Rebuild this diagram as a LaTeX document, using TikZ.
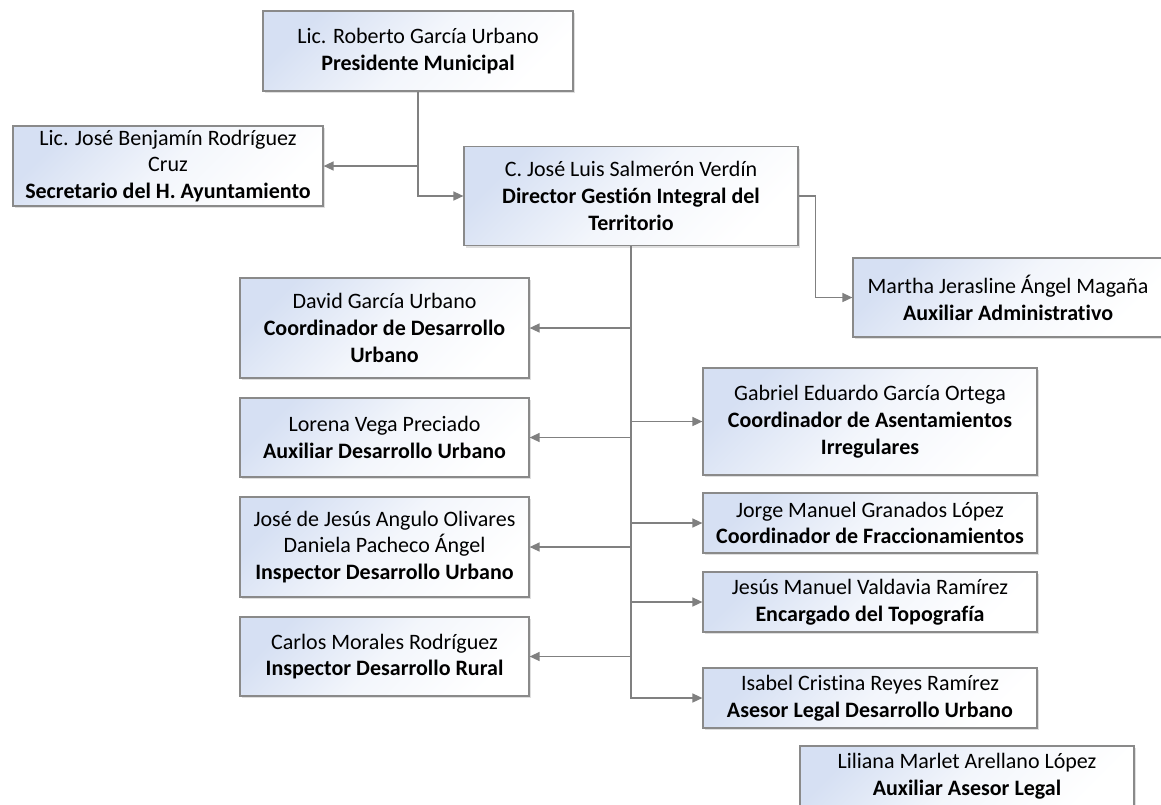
\documentclass[tikz,border=0pt]{standalone}
\usepackage{fontspec}
\setmainfont{Carlito}[Ligatures=NoCommon]
\usetikzlibrary{shapes,arrows,arrows.meta,shadows}
\definecolor{boxblue}{RGB}{214,224,243}
\definecolor{edgegray}{RGB}{138,138,138}
\definecolor{linegray}{RGB}{128,128,128}

\begin{document}
\begin{tikzpicture}[x=1pt,y=-1pt,
    puesto/.style={rectangle, draw=edgegray, line width=1.2pt,
        top color=boxblue, bottom color=white, middle color=boxblue!30!white,
        shading angle=45,
        drop shadow={shadow xshift=2pt, shadow yshift=-2pt, opacity=.25},
        align=center, inner sep=2pt, font=\fontsize{22}{26.8}\selectfont},
    izq/.style={puesto, minimum width=289pt},
    der/.style={puesto, minimum width=334pt},
    conn/.style={draw=linegray, line width=1.5pt, -{Triangle[length=10pt,width=9pt]}}]
    % Page size:
    \useasboundingbox (0,0) rectangle (1161,804);

    % Top of the chart
    \node[puesto, minimum width=310pt, minimum height=80pt] (pres) at (418,51)
        {Lic. Roberto García Urbano\\\textbf{Presidente Municipal}};
    \node[puesto, minimum width=310pt, minimum height=80pt] (secr) at (168,166)
        {Lic. José Benjamín Rodríguez\\Cruz\\\textbf{Secretario del H. Ayuntamiento}};
    \node[puesto, minimum width=334pt, minimum height=99pt] (dir) at (631,196)
        {C. José Luis Salmerón Verdín\\\textbf{Director Gestión Integral del}\\\textbf{Territorio}};
    \node[puesto, minimum width=310pt, minimum height=79pt] (aux) at (1008,297.5)
        {Martha Jerasline Ángel Magaña\\\textbf{Auxiliar Administrativo}};

    % Left column
    \node[izq, minimum height=100pt] (david) at (384.5,328)
        {David García Urbano\\\textbf{Coordinador de Desarrollo}\\\textbf{Urbano}};
    \node[izq, minimum height=79pt] (lorena) at (384.5,437.5)
        {Lorena Vega Preciado\\\textbf{Auxiliar Desarrollo Urbano}};
    \node[izq, minimum height=100pt] (jose) at (384.5,547)
        {José de Jesús Angulo Olivares\\Daniela Pacheco Ángel\\\textbf{Inspector Desarrollo Urbano}};
    \node[izq, minimum height=79pt] (carlos) at (384.5,656.5)
        {Carlos Morales Rodríguez\\\textbf{Inspector Desarrollo Rural}};

    % Right column
    \node[der, minimum height=107pt] (gabriel) at (870,421.5)
        {Gabriel Eduardo García Ortega\\\textbf{Coordinador de Asentamientos}\\\textbf{Irregulares}};
    \node[der, minimum height=60pt] (jorge) at (870,523)
        {Jorge Manuel Granados López\\\textbf{Coordinador de Fraccionamientos}};
    \node[der, minimum height=60pt] (jesus) at (870,602)
        {Jesús Manuel Valdavia Ramírez\\\textbf{Encargado del Topografía}};
    \node[der, minimum height=60pt] (isabel) at (870,698)
        {Isabel Cristina Reyes Ramírez\\\textbf{Asesor Legal Desarrollo Urbano}};
    \node[der, minimum height=60pt] (liliana) at (967,776)
        {Liliana Marlet Arellano López\\\textbf{Auxiliar Asesor Legal}};

    % Connectors
    \draw[conn] (pres.south) |- (secr.east);
    \draw[conn] (pres.south) |- (dir.west);
    \draw[conn] (dir.east) -- ++(17,0) |- (aux.west);
    \foreach \n in {david,lorena,jose,carlos}
        \draw[conn] (dir.south) |- (\n.east);
    \foreach \n in {gabriel,jorge,jesus,isabel}
        \draw[conn] (dir.south) |- (\n.west);
\end{tikzpicture}
\end{document}
